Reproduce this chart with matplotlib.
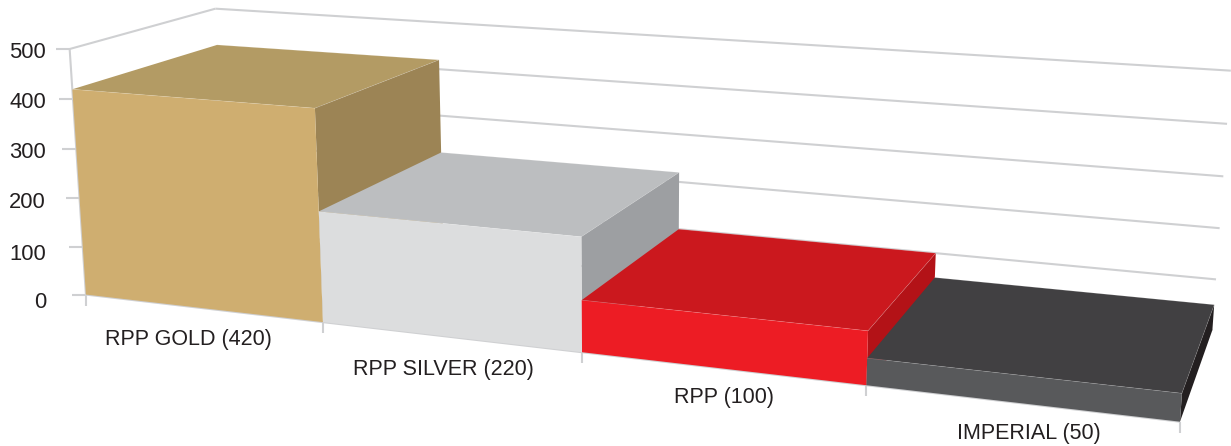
import numpy as np
import matplotlib
matplotlib.use("Agg")
import matplotlib.pyplot as plt

plt.rcParams["font.family"] = ["Liberation Sans", "DejaVu Sans"]

categories = ["RPP GOLD (420)", "RPP SILVER (220)", "RPP (100)", "IMPERIAL (50)"]
values = [420, 220, 100, 50]
y_ticks = [0, 100, 200, 300, 400, 500]
front_colors = ["#cfae70", "#dcddde", "#ed1c24", "#58595b"]
top_colors = ["#b39b64", "#bcbec0", "#cb181e", "#414042"]
side_colors = ["#9c8455", "#9d9fa2", "#b31217", "#231f20"]

# camara ajustada a la imagen: (categoria, valor/100, profundidad) -> pixel
CAMERA = np.array([
    [223.27266, -3.65799, 166.30493, 85.92094],
    [13.81992, -49.39967, -38.16193, 294.58154],
    [-0.04258, -0.0058, 0.11499, 1.0],
])

GRID = "#cfd0d2"
TEXT = "#231f20"


def project(x, value, z):
    h = CAMERA @ np.array([x, value / 100, z, 1.0])
    return h[0] / h[2], h[1] / h[2]


def line(p, q, zorder=1):
    ax.plot([p[0], q[0]], [p[1], q[1]], color=GRID, lw=1.5, zorder=zorder, solid_capstyle="butt")


def face(points, color, zorder):
    xs, ys = zip(*[project(*p) for p in points])
    ax.fill(xs, ys, color=color, lw=0, zorder=zorder)


fig = plt.figure(figsize=(12.31, 4.46), dpi=100)
ax = fig.add_axes([0, 0, 1, 1])
ax.set_xlim(0, 1231)
ax.set_ylim(446, 0)
ax.axis("off")

n = len(categories)

# paredes, rejilla y marcas
tick_label_y = [303, 254, 203, 152, 102, 52]
for t, label_y in zip(y_ticks, tick_label_y):
    line(project(0, t, 0), project(0, t, 1))
    line(project(0, t, 1), project(n, t, 1))
    a = project(0, t, 0)
    line((a[0] - 14, a[1]), a)
    ax.text(46, label_y, str(t), ha="right", va="center", fontsize=15.8, color=TEXT)
line(project(0, 0, 0), project(0, 500, 0))
line(project(0, 0, 0), project(n, 0, 0))
for i in range(n + 1):
    a = project(i, 0, 0)
    line(a, (a[0], a[1] + 11))

# barras, de atras hacia adelante
label_pos = [(188, 339), (443, 369), (724, 397), (1029, 433)]
for i, v in enumerate(values):
    z = 2 + i
    face([(i, v, 1), (i + 1, v, 1), (i + 1, v, 0), (i, v, 0)], top_colors[i], z)
    face([(i + 1, v, 0), (i + 1, v, 1), (i + 1, 0, 1), (i + 1, 0, 0)], side_colors[i], z)
    face([(i, 0, 0), (i + 1, 0, 0), (i + 1, v, 0), (i, v, 0)], front_colors[i], z)
    # filo claro en el borde superior
    for p, q in [((i, v, 0), (i + 1, v, 0)), ((i + 1, v, 0), (i + 1, v, 1)), ((i, v, 1), (i + 1, v, 1))]:
        a, b = project(*p), project(*q)
        ax.plot([a[0], b[0]], [a[1], b[1]], color="white", alpha=0.2, lw=0.5, zorder=z)
    ax.text(*label_pos[i], categories[i], ha="center", va="center", fontsize=15.5, color=TEXT)

fig.savefig("out.png", dpi=100)
